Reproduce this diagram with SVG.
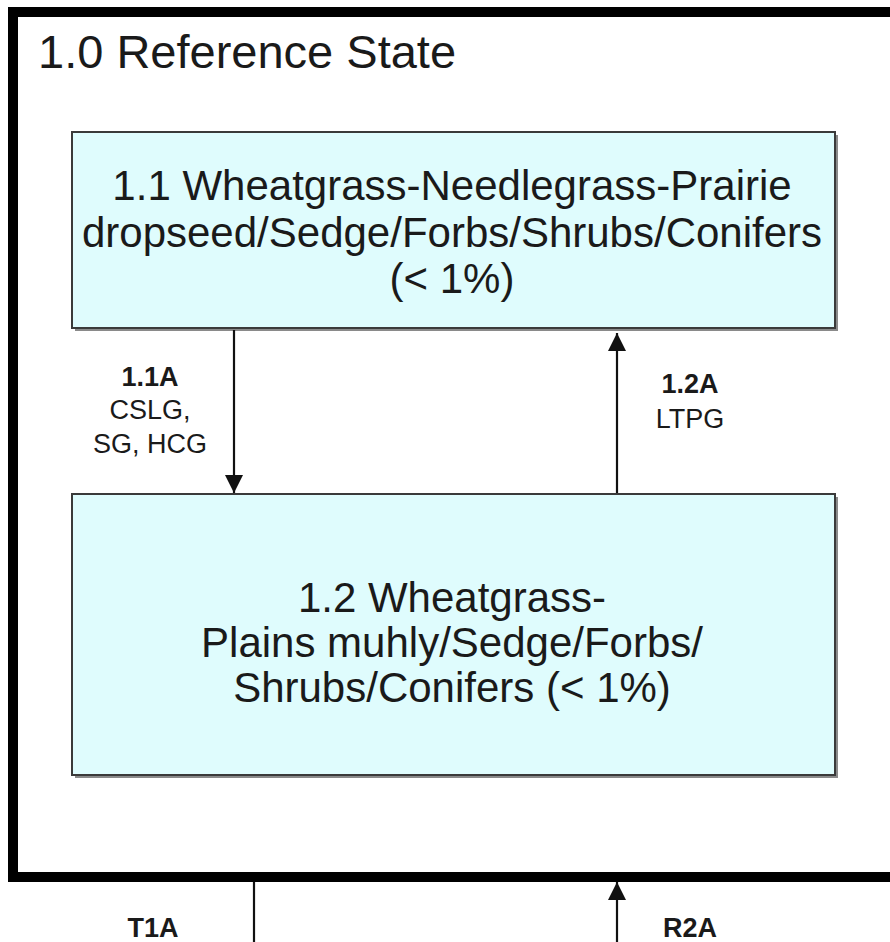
<svg xmlns="http://www.w3.org/2000/svg" width="890" height="942" viewBox="0 0 890 942">
<style>
.t{font-family:"Liberation Sans",Arial,sans-serif;fill:#1a1a1a;text-anchor:middle}
.big{font-size:42px}
.lbl{font-size:27px}
.b{font-weight:bold}
.box{fill:#dffcfd;stroke:#3a3a3a;stroke-width:2}
.shadow{fill:#8a8a8a}
.ln{stroke:#111;stroke-width:2.2;fill:none}
</style>
<defs>
<marker id="ah2" viewBox="0 0 10 10" refX="10" refY="5" markerWidth="18" markerHeight="18" markerUnits="userSpaceOnUse" orient="auto">
<path d="M0,0 L10,5 L0,10 z" fill="#111"/>
</marker>
</defs>
<rect x="0" y="0" width="890" height="942" fill="#fff"/>
<g id="state1">
<rect x="13" y="12" width="900" height="865" fill="none" stroke="#000" stroke-width="10"/>
<text class="t" x="38" y="68" style="font-size:47px;text-anchor:start">1.0 Reference State</text>
</g>
<g id="node11">
<rect class="shadow" x="75" y="135" width="763" height="196"/>
<rect class="box" x="72" y="132" width="763" height="196"/>
<text class="t big" x="452" y="200">1.1 Wheatgrass-Needlegrass-Prairie</text>
<text class="t big" x="452" y="247">dropseed/Sedge/Forbs/Shrubs/Conifers</text>
<text class="t big" x="452" y="293">(&lt; 1%)</text>
</g>
<g id="node12">
<rect class="shadow" x="75" y="497" width="763" height="281"/>
<rect class="box" x="72" y="494" width="763" height="281"/>
<text class="t big" x="452" y="612">1.2 Wheatgrass-</text>
<text class="t big" x="452" y="657">Plains muhly/Sedge/Forbs/</text>
<text class="t big" x="452" y="702">Shrubs/Conifers (&lt; 1%)</text>
</g>
<g id="connectors">
<line class="ln" x1="234" y1="330" x2="234" y2="493" marker-end="url(#ah2)"/>
<line class="ln" x1="617" y1="493" x2="617" y2="333" marker-end="url(#ah2)"/>
<line class="ln" x1="254" y1="882" x2="254" y2="942"/>
<line class="ln" x1="617" y1="942" x2="617" y2="882" marker-end="url(#ah2)"/>
</g>
<g id="labels">
<text class="t lbl b" x="150" y="386">1.1A</text>
<text class="t lbl" x="150" y="419">CSLG,</text>
<text class="t lbl" x="150" y="453">SG, HCG</text>
<text class="t lbl b" x="690" y="393">1.2A</text>
<text class="t lbl" x="690" y="428">LTPG</text>
<text class="t lbl b" x="153" y="937">T1A</text>
<text class="t lbl b" x="690" y="937">R2A</text>
</g>
</svg>
